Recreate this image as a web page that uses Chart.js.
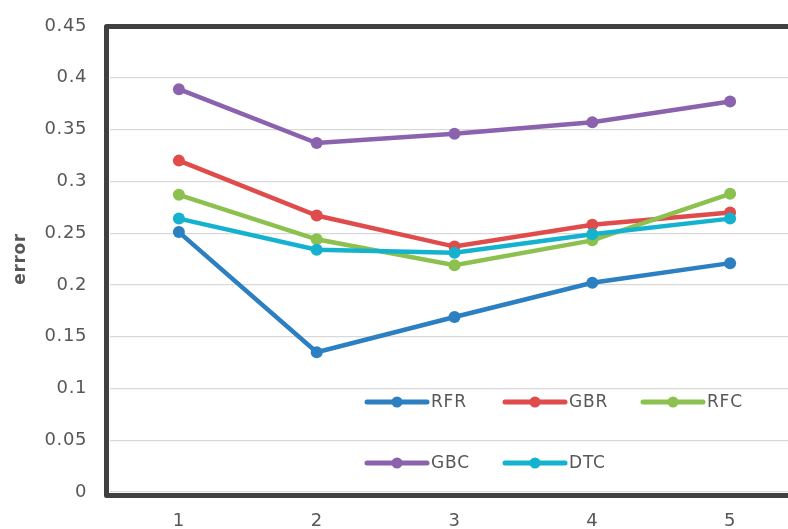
<!DOCTYPE html>
<html>
<head>
<meta charset="utf-8">
<script src="https://cdn.jsdelivr.net/npm/chart.js@4.4.1/dist/chart.umd.min.js"></script>
<style>
  html, body { margin: 0; padding: 0; overflow: hidden; background: #ffffff; }
  #wrap { width: 800px; height: 529px; position: relative; }
</style>
</head>
<body>
<div id="wrap"><canvas id="c"></canvas></div>
<script>
// Categories along the x axis
const categories = ['1', '2', '3', '4', '5'];

// Error of each model per category
const rfr = [0.251, 0.135, 0.169, 0.202, 0.221];
const gbr = [0.320, 0.267, 0.237, 0.258, 0.270];
const rfc = [0.287, 0.244, 0.219, 0.243, 0.288];
const gbc = [0.389, 0.337, 0.346, 0.357, 0.377];
const dtc = [0.264, 0.234, 0.231, 0.249, 0.264];

// Series names and colours
const seriesNames = ['RFR', 'GBR', 'RFC', 'GBC', 'DTC'];
const seriesColors = ['#2c7fc1', '#e04b4b', '#8cc14f', '#8b62ad', '#14b2cf'];
const seriesValues = [rfr, gbr, rfc, gbc, dtc];

// Y axis tick labels
const yTicks = [0, 0.05, 0.1, 0.15, 0.2, 0.25, 0.3, 0.35, 0.4, 0.45];

const TEXT = '#575757';
const FONT = "'DejaVu Sans', sans-serif";

// Dark frame around the plot area (left, top, bottom)
const framePlugin = {
  id: 'frame',
  beforeDatasetsDraw(chart) {
    const { ctx, chartArea: a } = chart;
    ctx.save();
    ctx.strokeStyle = '#404040';
    ctx.lineWidth = 5;
    ctx.lineJoin = 'round';
    ctx.strokeRect(a.left - 3.5, a.top + 0.5, a.right - a.left + 10, a.bottom - a.top + 3);
    ctx.restore();
  }
};

// Slightly wider glyph spacing for all canvas text
const spacingPlugin = {
  id: 'spacing',
  beforeDraw(chart) { chart.ctx.letterSpacing = '0.6px'; }
};

// Two-row legend placed inside the plot area
const insideLegend = {
  id: 'insideLegend',
  afterDatasetsDraw(chart) {
    const ctx = chart.ctx;
    const x0 = 367, y0 = 402, colStep = 138, rowStep = 61, lineLen = 60;
    ctx.save();
    ctx.font = '17px ' + FONT;
    ctx.letterSpacing = '0.8px';
    ctx.textBaseline = 'middle';
    ctx.textAlign = 'left';
    chart.data.datasets.forEach((ds, i) => {
      const col = i % 3, row = Math.floor(i / 3);
      const x = x0 + col * colStep, y = y0 + row * rowStep;
      ctx.strokeStyle = ds.borderColor;
      ctx.lineWidth = 5;
      ctx.lineCap = 'round';
      ctx.beginPath();
      ctx.moveTo(x, y);
      ctx.lineTo(x + lineLen, y);
      ctx.stroke();
      ctx.fillStyle = ds.borderColor;
      ctx.beginPath();
      ctx.arc(x + lineLen / 2, y, 5.5, 0, Math.PI * 2);
      ctx.fill();
      ctx.fillStyle = TEXT;
      ctx.fillText(ds.label, x + lineLen + 4, y + 1);
    });
    ctx.restore();
  }
};

const datasets = seriesNames.map((name, i) => ({
  label: name,
  data: seriesValues[i],
  borderColor: seriesColors[i],
  backgroundColor: seriesColors[i],
  borderWidth: 4.5,
  pointRadius: 6,
  pointHoverRadius: 6,
  pointBorderWidth: 0,
  tension: 0,
  order: seriesNames.length - i
}));

new Chart(document.getElementById('c'), {
  type: 'line',
  data: { labels: categories, datasets },
  options: {
    responsive: true,
    maintainAspectRatio: false,
    animation: false,
    layout: { autoPadding: false, padding: { top: 26, right: 1, left: 0, bottom: 0 } },
    plugins: {
      legend: { display: false },
      tooltip: { enabled: false }
    },
    scales: {
      x: {
        offset: true,
        grid: { display: false, drawTicks: false },
        border: { display: false },
        ticks: { color: TEXT, font: { family: FONT, size: 18 }, padding: 19 },
        afterFit(s) { s.height = 37; s.paddingLeft = 0; s.paddingRight = 0; }
      },
      y: {
        min: 0,
        max: 0.45,
        afterBuildTicks(s) { s.ticks = yTicks.map(v => ({ value: v })); },
        grid: { color: '#d9d9d9', lineWidth: 1.2, drawTicks: false },
        border: { display: false },
        ticks: {
          color: TEXT,
          font: { family: FONT, size: 18 },
          padding: 23,
          callback: v => String(Math.round(v * 100) / 100)
        },
        title: {
          display: true,
          text: 'error',
          color: TEXT,
          font: { family: FONT, size: 17, weight: 'bold' },
          padding: { top: 10, bottom: 0 }
        },
        afterFit(s) { s.width = 110; s.paddingTop = 0; s.paddingBottom = 0; }
      }
    }
  },
  plugins: [spacingPlugin, framePlugin, insideLegend]
});
</script>
</body>
</html>
